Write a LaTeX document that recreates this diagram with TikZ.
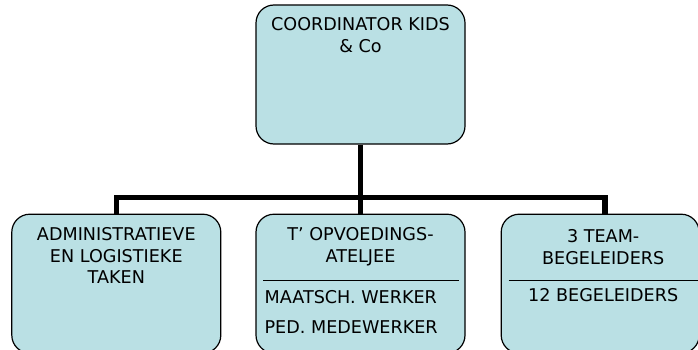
\documentclass[tikz,border=0pt]{standalone}
\usepackage{fontspec}
\setmainfont{DejaVu Sans}
\usepackage{tikz}
\usetikzlibrary{positioning}
\definecolor{boxblue}{RGB}{186,224,228}
\tikzstyle{Box} = [draw, line width=1.2pt, fill=boxblue, rectangle, rounded corners=18pt, minimum width=209pt, minimum height=139pt]
\tikzstyle{Text} = [inner sep=0pt, align=center, font=\fontsize{17.6}{21.5}\selectfont]
\tikzstyle{Item} = [inner sep=0pt, font=\fontsize{17.6}{21.5}\selectfont]
\tikzstyle{Bar} = [line width=5.5pt]

\begin{document}
\begin{tikzpicture}[x=1pt,y=1pt]
    \useasboundingbox (0,0) rectangle (698,-350);
    \node[Box] (coordinator) at (360.5,-74.5) {};
    \node[Box] (ateljee)     [below=69pt of coordinator] {};
    \node[Box] (admin)       [left=34pt of ateljee] {};
    \node[Box, minimum width=198pt] (team) [right=35pt of ateljee] {};
    % titles
    \node[Text, anchor=north] (t_coordinator) at ([yshift=-13pt]coordinator.north) {COORDINATOR KIDS\\\& Co};
    \node[Text, anchor=north] (t_admin)       at ([yshift=-14pt]admin.north) {ADMINISTRATIEVE\\EN LOGISTIEKE\\TAKEN};
    \node[Text, anchor=north] (t_ateljee)     at ([yshift=-14pt]ateljee.north) {T’ OPVOEDINGS-\\ATELJEE};
    \node[Text, anchor=north] (t_team)        at ([yshift=-16pt,xshift=3pt]team.north) {3 TEAM-\\BEGELEIDERS};
    % separators and members
    \draw[line width=1.2pt] ([xshift=8pt,yshift=-67pt]ateljee.north west) -- ([xshift=-7pt,yshift=-67pt]ateljee.north east);
    \draw[line width=1.2pt] ([xshift=8pt,yshift=-67pt]team.north west) -- ([yshift=-67pt]team.north east);
    \node[Item, anchor=north west] (i_werker) at ([xshift=9pt,yshift=-77pt]ateljee.north west) {MAATSCH. WERKER};
    \node[Item, anchor=north west] (i_medew)  at ([xshift=9pt,yshift=-107pt]ateljee.north west) {PED. MEDEWERKER};
    \node[Item, anchor=north] (i_begel) at ([xshift=3pt,yshift=-75pt]team.north) {12 BEGELEIDERS};
    % connectors
    \draw[Bar] (coordinator.south) -- ++(0,-53) coordinate (bus);
    \draw[Bar] (bus) -- (ateljee.north);
    \draw[Bar] (admin.north) |- (bus) -| ([xshift=5pt]team.north);
\end{tikzpicture}
\end{document}
